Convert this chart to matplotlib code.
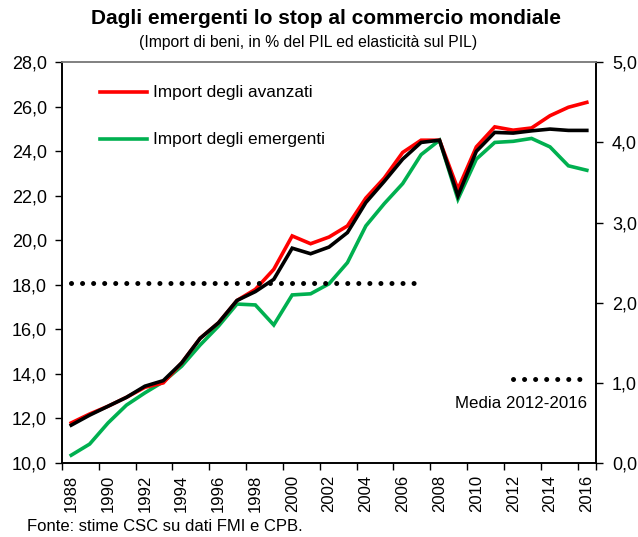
import matplotlib
matplotlib.use("Agg")
import matplotlib.pyplot as plt
import numpy as np

plt.rcParams['font.family'] = ['Liberation Sans', 'DejaVu Sans']

years = list(range(1988, 2017))
avanzati = [11.8, 12.2, 12.55, 12.95, 13.4, 13.6, 14.5, 15.6, 16.3, 17.3, 17.8, 18.7,
            20.2, 19.85, 20.15, 20.65, 21.9, 22.8, 23.95, 24.5, 24.5, 22.3, 24.2, 25.1,
            24.95, 25.05, 25.6, 25.98, 26.2]
emergenti = [10.35, 10.85, 11.8, 12.6, 13.15, 13.65, 14.35, 15.3, 16.15, 17.14, 17.1, 16.2,
             17.55, 17.6, 18.05, 19.0, 20.65, 21.65, 22.55, 23.85, 24.5, 21.85, 23.65, 24.4,
             24.45, 24.58, 24.2, 23.35, 23.15]
mondo = [11.7, 12.15, 12.55, 12.95, 13.45, 13.7, 14.5, 15.6, 16.3, 17.3, 17.7, 18.25,
         19.65, 19.4, 19.7, 20.35, 21.7, 22.65, 23.65, 24.4, 24.5, 22.0, 24.0, 24.85,
         24.82, 24.92, 25.0, 24.94, 24.94]
media_early_years = [1988, 2007]
media_early = [2.25, 2.25]
media_late_years = [2012, 2016]
media_late = [1.05, 1.05]

xi = {y: i for i, y in enumerate(years)}

fig = plt.figure(figsize=(6.38, 5.37), dpi=100)
ax = fig.add_axes([0.0972, 0.1378, 0.8370, 0.7462])
ax2 = ax.twinx()

x = np.arange(len(years))
lw = 2.6
ax.plot(x, emergenti, color='#00B050', lw=lw, solid_joinstyle='miter', zorder=3,
        label='Import degli emergenti')
ax.plot(x, avanzati, color='#FF0000', lw=lw, solid_joinstyle='miter', zorder=4,
        label='Import degli avanzati')
ax.plot(x, mondo, color='black', lw=lw, solid_joinstyle='miter', zorder=5)

dot_style = dict(color='black', lw=3.6, linestyle=(0, (0.01, 2.2)), dash_capstyle='round')
ax2.plot([xi[y] for y in media_early_years], media_early, **dot_style)
ax2.plot([xi[y] for y in media_late_years], media_late, **dot_style)

ax.set_xlim(-0.5, len(years) - 0.5)
ax.set_ylim(10, 28)
ax.set_yticks(np.arange(10, 28.1, 2))
ax.set_yticklabels([f"{v:.1f}".replace('.', ',') for v in np.arange(10, 28.1, 2)], fontsize=13)
ax2.set_ylim(0, 5)
ax2.set_yticks(np.arange(0, 5.1, 1))
ax2.set_yticklabels([f"{v:.1f}".replace('.', ',') for v in np.arange(0, 5.1, 1)], fontsize=13)

major = list(np.arange(-0.5, len(years) - 0.5, 2)) + [len(years) - 0.5]
ax.set_xticks(major)
ax.set_xticklabels([])
ax.set_xticks(x[::2], minor=True)
ax.set_xticklabels([str(y) for y in years[::2]], minor=True, rotation=90, fontsize=12)
ax.tick_params(axis='x', which='major', direction='out', length=5, width=1)
ax.tick_params(axis='x', which='minor', length=0, pad=8.5)
ax.tick_params(axis='y', direction='out', length=5, width=1, pad=5.8)
ax2.tick_params(axis='y', direction='out', length=5, width=1, pad=6.5)

for a in (ax, ax2):
    for s in ('left', 'right', 'bottom'):
        a.spines[s].set_linewidth(1.2)
    a.spines['top'].set_color('#808080')
    a.spines['top'].set_linewidth(1.2)

# legend drawn as lines + labels in axes coordinates
ax.plot([0.072, 0.160], [0.925, 0.925], transform=ax.transAxes, color='#FF0000', lw=lw)
ax.text(0.170, 0.925, 'Import degli avanzati', transform=ax.transAxes, fontsize=12.4,
        va='center', ha='left')
ax.plot([0.072, 0.160], [0.808, 0.808], transform=ax.transAxes, color='#00B050', lw=lw)
ax.text(0.170, 0.808, 'Import degli emergenti', transform=ax.transAxes, fontsize=12.4,
        va='center', ha='left')
ax.text(0.983, 0.148, 'Media 2012-2016', transform=ax.transAxes, fontsize=12.2,
        va='center', ha='right')

fig.text(0.511, 0.966, 'Dagli emergenti lo stop al commercio mondiale', fontsize=15,
         fontweight='bold', ha='center', va='center')
fig.text(0.483, 0.921, "(Import di beni, in % del PIL ed elasticità sul PIL)", fontsize=11.3,
         ha='center', va='center')
fig.text(0.042, 0.019, 'Fonte: stime CSC su dati FMI e CPB.', fontsize=12,
         ha='left', va='center')

fig.savefig('out.png', dpi=100)
